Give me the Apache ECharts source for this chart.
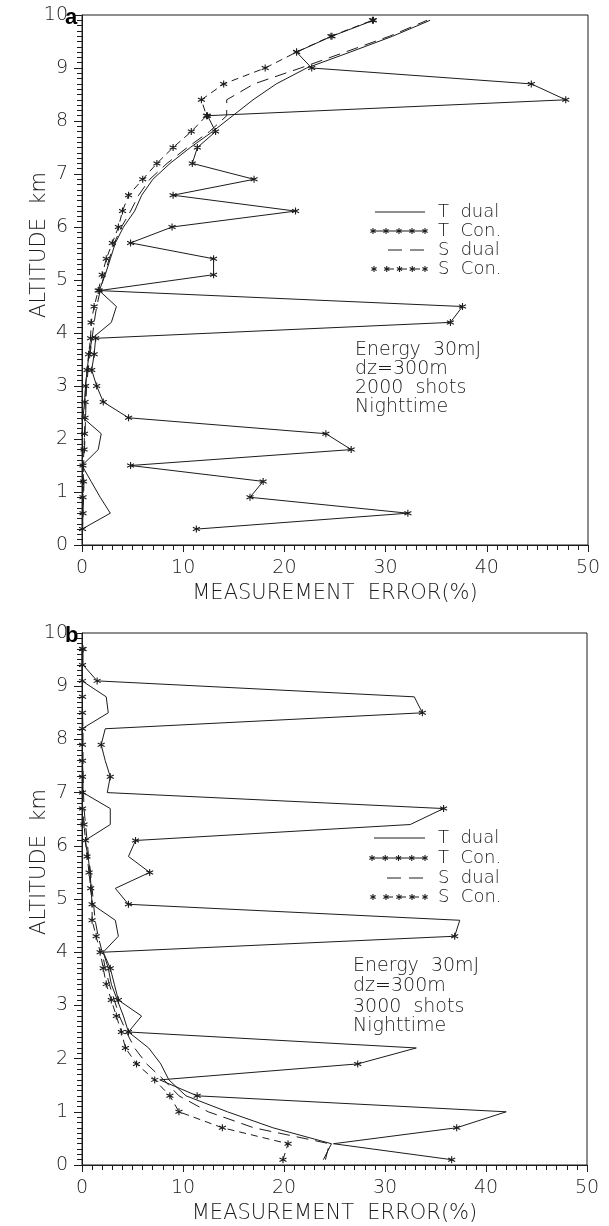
<!DOCTYPE html>
<html><head><meta charset="utf-8">
<script src="https://cdn.jsdelivr.net/npm/echarts@6/dist/echarts.min.js"></script>
<style>html,body{margin:0;padding:0;background:#fff}#c{width:609px;height:1226px}</style>
</head><body><div id="c"></div>
<script>
// ---------- data (altitude km / measurement error %) ----------
const altA = [0.3,0.6,0.9,1.2,1.5,1.8,2.1,2.4,2.7,3.0,3.3,3.6,3.9,4.2,4.5,4.8,5.1,5.4,5.7,6.0,6.3,6.6,6.9,7.2,7.5,7.8,8.1,8.4,8.7,9.0,9.3,9.6,9.9];
const tDualA = [0,2.8,1.8,0.9,0,1.6,1.9,0.1,0.25,0.35,0.5,0.7,1.0,2.9,3.4,1.7,2.3,2.8,3.3,4.1,5.2,5.9,7.0,8.7,10.7,12.9,14.9,16.9,19.2,22.2,26.5,30.7,34.4];
const tConA  = [11.3,32.2,16.6,17.9,4.8,26.6,24.1,4.6,2.1,1.45,0.96,1.2,1.35,36.4,37.6,1.7,13.0,13.0,4.8,8.9,21.1,9.0,17.0,10.9,11.4,13.2,12.4,47.8,44.4,22.7,21.2,24.7,28.8];
const sDualA = [0.05,0.1,0.15,0.2,0.15,0.25,0.3,0.35,0.4,0.45,0.6,0.8,1.0,1.2,1.45,1.8,2.2,2.7,3.2,3.9,4.8,5.6,6.7,8.4,10.4,12.6,14.3,14.3,17.0,21.6,26.0,30.4,34.1];
const sConA  = [0.05,0.1,0.1,0.15,0.1,0.2,0.25,0.3,0.3,0.35,0.5,0.65,0.85,0.9,1.2,1.6,2.0,2.4,3.0,3.6,4.0,4.6,6.0,7.4,9.0,10.8,12.3,11.8,14.0,18.1,21.2,24.6,28.7];

const altB = [0.1,0.4,0.7,1.0,1.3,1.6,1.9,2.2,2.5,2.8,3.1,3.4,3.7,4.0,4.3,4.6,4.9,5.2,5.5,5.8,6.1,6.4,6.7,7.0,7.3,7.6,7.9,8.2,8.5,8.8,9.1,9.4,9.7];
const tDualB = [23.9,24.7,18.9,14.4,10.3,8.6,7.8,6.6,4.6,4.1,3.5,2.9,2.6,2.1,3.6,3.3,1.0,0.9,0.8,0.6,0.3,2.8,2.8,0.1,0.1,0.05,0.05,0,2.6,2.4,0,0,0];
const tConB  = [36.6,24.9,37.1,42.0,11.4,7.7,27.3,33.1,4.6,5.9,3.6,3.2,2.8,2.1,36.9,37.4,4.6,3.3,6.7,4.6,5.3,32.5,35.8,2.5,2.8,2.3,1.9,2.3,33.7,32.9,1.5,0.1,0.1];
const sDualB = [24.1,24.5,17.0,12.5,9.6,8.1,6.4,5.2,4.4,3.7,3.2,2.7,2.3,2.0,1.6,1.3,1.15,1.0,0.85,0.65,0.5,0.35,0.2,0.15,0.1,0.1,0.1,0.1,0.05,0.05,0.05,0.05,0.05];
const sConB  = [19.9,20.4,13.9,9.6,8.7,7.2,5.4,4.3,3.9,3.4,2.9,2.4,2.1,1.8,1.4,1.0,1.0,0.86,0.7,0.5,0.35,0.2,0.05,0.05,0.05,0.05,0.05,0.05,0.05,0.05,0.05,0.05,0.05];

const seriesNames = ['T dual','T Con.','S dual','S Con.'];
const xTicks = [0,10,20,30,40,50];
const yTicks = [0,1,2,3,4,5,6,7,8,9,10];
const noteA = ['Energy  30mJ','dz=300m','2000  shots','Nighttime'];
const noteB = ['Energy  30mJ','dz=300m','3000  shots','Nighttime'];
const xName = 'MEASUREMENT  ERROR(%)';
const yName = 'ALTITUDE  km';

// ---------- styling ----------
const INK = '#1c1c1c';
const FONT = 'DejaVu Sans';
const FW = 200;
const STAR = 'path://M0,-5L0,5M-4.33,-2.5L4.33,2.5M-4.33,2.5L4.33,-2.5';

function pts(xs, ys, every) {
  return xs.map((x, i) => {
    const item = { value: [x, ys[i]] };
    if (every) item.symbol = (i % every === 0) ? STAR : 'none';
    return item;
  });
}
function lineSeries(name, g, data, kind) {
  const s = {
    name, type: 'line', xAxisIndex: g, yAxisIndex: g, data,
    animation: false, silent: true, z: 3,
    lineStyle: { color: INK, width: 1 },
    itemStyle: { color: INK, borderColor: INK, borderWidth: 1.1 },
    symbol: 'none', symbolSize: 7
  };
  if (kind === 'con' || kind === 'sCon') { s.symbol = STAR; s.showSymbol = true; }
  if (kind === 'sDual') s.lineStyle.type = [12, 7];
  if (kind === 'sCon') s.lineStyle.type = [7, 5];
  return s;
}
function xAxis(g) {
  return {
    gridIndex: g, type: 'value', min: 0, max: 50, interval: 10,
    axisLine: { show: true, onZero: false, lineStyle: { color: INK, width: 1 } },
    axisTick: { show: true, length: 7, lineStyle: { color: INK } },
    minorTick: { show: true, splitNumber: 10, length: 5, lineStyle: { color: INK } },
    splitLine: { show: false },
    axisLabel: { color: INK, fontSize: 19, fontFamily: FONT, fontWeight: FW, margin: 14,
      formatter: v => xTicks.includes(v) ? String(v) : '' },
    name: xName, nameLocation: 'middle', nameGap: 38,
    nameTextStyle: { color: INK, fontSize: 21, fontFamily: FONT, fontWeight: FW }
  };
}
function yAxis(g) {
  return {
    gridIndex: g, type: 'value', min: 0, max: 10, interval: 1,
    axisLine: { show: true, onZero: false, lineStyle: { color: INK, width: 1 } },
    axisTick: { show: true, length: 8, lineStyle: { color: INK } },
    minorTick: { show: true, splitNumber: 10, length: 5, lineStyle: { color: INK } },
    splitLine: { show: false },
    axisLabel: { color: INK, fontSize: 19, fontFamily: FONT, fontWeight: FW, margin: 14,
      formatter: v => yTicks.includes(v) ? String(v) : '' }
  };
}

// legend and annotation graphics
function asterisk(cx, cy, r) {
  const out = [];
  for (const a of [90, 30, -30]) {
    const t = a * Math.PI / 180, dx = r * Math.cos(t), dy = r * Math.sin(t);
    out.push({ type: 'line', shape: { x1: cx - dx, y1: cy - dy, x2: cx + dx, y2: cy + dy },
      style: { stroke: INK, lineWidth: 1.1 }, silent: true });
  }
  return out;
}
function legend(x0, x1, ys) {
  const els = [];
  const tx = x1 + 13;
  els.push({ type: 'line', shape: { x1: x0, y1: ys[0], x2: x1, y2: ys[0] }, style: { stroke: INK, lineWidth: 1 } });
  els.push({ type: 'line', shape: { x1: x0 - 2, y1: ys[1], x2: x1, y2: ys[1] }, style: { stroke: INK, lineWidth: 1 } });
  for (let k = 0; k < 5; k++) els.push(...asterisk(x0 - 2 + k * (x1 - x0 + 2) / 4, ys[1], 3));
  els.push({ type: 'line', shape: { x1: x0 + 13, y1: ys[2], x2: x1, y2: ys[2] }, style: { stroke: INK, lineWidth: 1, lineDash: [14, 8] } });
  els.push({ type: 'line', shape: { x1: x0 + 13, y1: ys[3], x2: x1, y2: ys[3] }, style: { stroke: INK, lineWidth: 1, lineDash: [6, 7] } });
  for (let k = 0; k < 5; k++) els.push(...asterisk(x0 - 1 + k * (x1 - x0 + 1) / 4, ys[3], 3));
  seriesNames.forEach((n, i) => {
    els.push({ type: 'text', x: tx, y: ys[i], style: { text: n.replace(' ', '  '), fill: INK, fontSize: 18,
      fontFamily: FONT, fontWeight: FW, verticalAlign: 'middle', align: 'left' }, silent: true });
  });
  return els;
}
function notes(lines, x, ys) {
  return lines.map((t, i) => ({ type: 'text', x, y: ys[i], silent: true,
    style: { text: t, fill: INK, fontSize: 19, fontFamily: FONT, fontWeight: FW, verticalAlign: 'middle', align: 'left' } }));
}
function yTitle(cx, cy) {
  return { type: 'text', x: cx, y: cy, rotation: Math.PI / 2, silent: true,
    style: { text: yName, fill: INK, fontSize: 21, fontFamily: FONT, fontWeight: FW, align: 'center', verticalAlign: 'middle' } };
}
function panelLetter(t, x, y) {
  return { type: 'text', x, y, silent: true,
    style: { text: t, fill: '#000', fontSize: 22, fontFamily: 'Liberation Sans', fontWeight: 'bold', align: 'left', verticalAlign: 'top' } };
}

const chart = echarts.init(document.getElementById('c'), null, { renderer: 'canvas' });
chart.setOption({
  backgroundColor: '#fff',
  animation: false,
  grid: [
    { left: 82, top: 15, width: 506, height: 530, show: true, borderColor: INK, borderWidth: 1, backgroundColor: 'transparent' },
    { left: 82, top: 633, width: 505, height: 532, show: true, borderColor: INK, borderWidth: 1, backgroundColor: 'transparent' }
  ],
  xAxis: [xAxis(0), xAxis(1)],
  yAxis: [yAxis(0), yAxis(1)],
  series: [
    lineSeries('T dual', 0, pts(tDualA, altA), 'dual'),
    lineSeries('T Con.', 0, pts(tConA, altA), 'con'),
    lineSeries('S dual', 0, pts(sDualA, altA), 'sDual'),
    lineSeries('S Con.', 0, pts(sConA, altA), 'sCon'),
    lineSeries('T dual', 1, pts(tDualB, altB), 'dual'),
    lineSeries('T Con.', 1, pts(tConB, altB, 2), 'con'),
    lineSeries('S dual', 1, pts(sDualB, altB), 'sDual'),
    lineSeries('S Con.', 1, pts(sConB, altB), 'sCon')
  ],
  graphic: [
    ...legend(375, 425, [212, 231, 250, 269]),
    ...legend(374, 425, [838, 858, 878, 897]),
    ...notes(noteA, 355, [350, 369, 388, 407]),
    ...notes(noteB, 353, [966, 986, 1007, 1026]),
    yTitle(40, 245),
    yTitle(40, 862),
    panelLetter('a', 65, 7),
    panelLetter('b', 65, 625)
  ]
});
</script>
</body></html>
